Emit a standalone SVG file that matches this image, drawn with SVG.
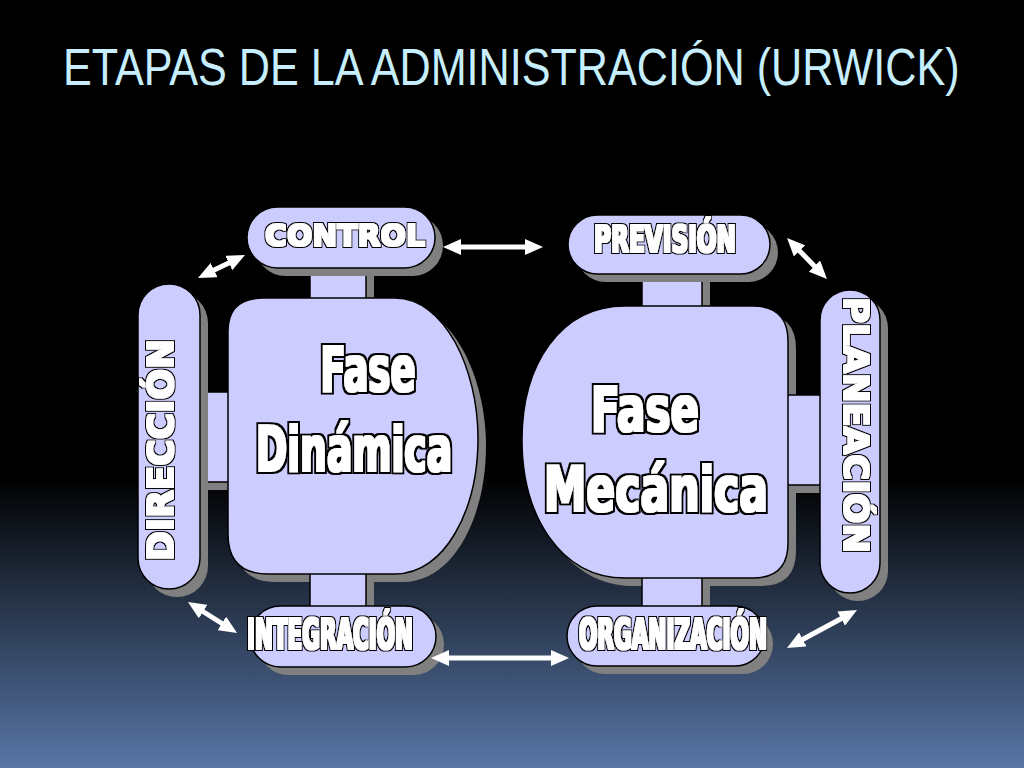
<svg xmlns="http://www.w3.org/2000/svg" width="1024" height="768" viewBox="0 0 1024 768">
<defs>
<linearGradient id="bg" x1="0" y1="0" x2="0" y2="1">
<stop offset="0" stop-color="#000"/>
<stop offset="0.62" stop-color="#000"/>
<stop offset="1" stop-color="#5876a6"/>
</linearGradient>
<marker id="ah" viewBox="0 0 18 16" refX="4" refY="8" markerWidth="18" markerHeight="16" markerUnits="userSpaceOnUse" orient="auto-start-reverse">
<path d="M0,0 L18,8 L0,16 z" fill="#fff"/>
</marker>
<filter id="ol" x="-10%" y="-20%" width="120%" height="140%">
<feMorphology in="SourceAlpha" operator="dilate" radius="0.9" result="w"/>
<feMorphology in="SourceAlpha" operator="dilate" radius="2.2" result="b"/>
<feFlood flood-color="#000"/><feComposite in2="b" operator="in" result="bk"/>
<feFlood flood-color="#fff"/><feComposite in2="w" operator="in" result="wt"/>
<feMerge><feMergeNode in="bk"/><feMergeNode in="wt"/></feMerge>
</filter>
<filter id="olb" x="-10%" y="-20%" width="120%" height="140%">
<feMorphology in="SourceAlpha" operator="dilate" radius="1.3" result="w"/>
<feMorphology in="SourceAlpha" operator="dilate" radius="2.8" result="b"/>
<feFlood flood-color="#000"/><feComposite in2="b" operator="in" result="bk"/>
<feFlood flood-color="#fff"/><feComposite in2="w" operator="in" result="wt"/>
<feMerge><feMergeNode in="bk"/><feMergeNode in="wt"/></feMerge>
</filter>
<style>
.fg{fill:#ccccff;stroke:#000;stroke-width:1.5}
.sh{fill:#808080;stroke:none}
.lbl{fill:#fff;filter:url(#ol);font-family:'DejaVu Sans Condensed','DejaVu Sans','Liberation Sans',sans-serif;font-weight:bold;text-anchor:middle}
.wide{fill:#fff;filter:url(#ol);font-family:'DejaVu Sans','Liberation Sans',sans-serif;font-weight:bold;text-anchor:middle}
.big{fill:#fff;filter:url(#olb);font-family:'DejaVu Sans Condensed','DejaVu Sans','Liberation Sans',sans-serif;font-weight:bold;text-anchor:middle;font-size:63px}
.arr{stroke:#fff;stroke-width:5;fill:none;marker-start:url(#ah);marker-end:url(#ah)}
</style>
</defs>
<rect x="0" y="0" width="1024" height="768" fill="url(#bg)"/>
<text transform="translate(63,85) scale(0.83,1)" x="0" y="0" font-family="'Liberation Sans',Arial,sans-serif" font-size="52" fill="#c6eefc">ETAPAS DE LA ADMINISTRACIÓN (URWICK)</text>

<g id="fase-dinamica">
<g transform="translate(8,8)">
<rect class="sh" x="310" y="268" width="56" height="32"/>
<rect class="sh" x="196" y="392" width="34" height="90"/>
<rect class="sh" x="310" y="574" width="56" height="34"/>
<path class="sh" d="M263 298 L395 298 C445 298 478 370 478 438 C478 510 445 574 395 574 L268 574 Q228 574 228 534 L228 331 Q228 298 263 298 Z"/>
</g>
<rect class="fg" x="310" y="266" width="56" height="36"/>
<rect class="fg" x="196" y="392" width="34" height="90"/>
<rect class="fg" x="310" y="570" width="56" height="38"/>
<path class="fg" d="M263 298 L395 298 C445 298 478 370 478 438 C478 510 445 574 395 574 L268 574 Q228 574 228 534 L228 331 Q228 298 263 298 Z"/>
<text class="big" x="368" y="391" textLength="95" lengthAdjust="spacingAndGlyphs">Fase</text>
<text class="big" x="354" y="471" textLength="196" lengthAdjust="spacingAndGlyphs">Dinámica</text>
</g>

<g id="fase-mecanica">
<g transform="translate(8,8)">
<rect class="sh" x="642" y="272" width="60" height="36"/>
<rect class="sh" x="786" y="395" width="36" height="90"/>
<rect class="sh" x="642" y="574" width="60" height="34"/>
<path class="sh" d="M625 306 L753 306 Q788 306 788 341 L788 543 Q788 578 753 578 L625 578 C560 578 522 515 522 440 C522 365 560 306 625 306 Z"/>
</g>
<rect class="fg" x="642" y="272" width="60" height="38"/>
<rect class="fg" x="786" y="395" width="36" height="90"/>
<rect class="fg" x="642" y="572" width="60" height="36"/>
<path class="fg" d="M625 306 L753 306 Q788 306 788 341 L788 543 Q788 578 753 578 L625 578 C560 578 522 515 522 440 C522 365 560 306 625 306 Z"/>
<text class="big" x="645" y="431" textLength="108" lengthAdjust="spacingAndGlyphs">Fase</text>
<text class="big" x="656" y="511" textLength="224" lengthAdjust="spacingAndGlyphs">Mecánica</text>
</g>

<g id="control">
<rect class="sh" x="255" y="215" width="188" height="61" rx="30.5"/>
<rect class="fg" x="247" y="207" width="188" height="61" rx="30.5"/>
<text class="wide" x="345" y="246" font-size="31" textLength="160" lengthAdjust="spacingAndGlyphs">CONTROL</text>
</g>

<g id="prevision">
<rect class="sh" x="576" y="223" width="202" height="59" rx="29.5"/>
<rect class="fg" x="568" y="215" width="202" height="59" rx="29.5"/>
<text class="lbl" x="665" y="252" font-size="38" textLength="142" lengthAdjust="spacingAndGlyphs">PREVISIÓN</text>
</g>

<g id="direccion">
<rect class="sh" x="146" y="292" width="62" height="305" rx="31"/>
<rect class="fg" x="138" y="284" width="62" height="305" rx="31"/>
<text class="wide" transform="translate(173,450) rotate(-90)" font-size="35" textLength="222" lengthAdjust="spacingAndGlyphs">DIRECCIÓN</text>
</g>

<g id="planeacion">
<rect class="sh" x="828" y="298" width="60" height="303" rx="30"/>
<rect class="fg" x="820" y="290" width="60" height="303" rx="30"/>
<text class="lbl" transform="translate(844,425) rotate(90)" font-size="34" textLength="256" lengthAdjust="spacingAndGlyphs">PLANEACIÓN</text>
</g>

<g id="integracion">
<rect class="sh" x="258" y="614" width="186" height="61" rx="30.5"/>
<rect class="fg" x="250" y="606" width="186" height="61" rx="30.5"/>
<text class="lbl" x="330" y="649" font-size="42" textLength="166" lengthAdjust="spacingAndGlyphs">INTEGRACIÓN</text>
</g>

<g id="organizacion">
<rect class="sh" x="575" y="614" width="198" height="60" rx="30"/>
<rect class="fg" x="567" y="606" width="198" height="60" rx="30"/>
<text class="lbl" x="673" y="649" font-size="42" textLength="188" lengthAdjust="spacingAndGlyphs">ORGANIZACIÓN</text>
</g>

<g id="connectors">
<line class="arr" x1="210.6" y1="271.8" x2="232.4" y2="261.2"/>
<line class="arr" x1="457" y1="247" x2="529" y2="247"/>
<line class="arr" x1="796.8" y1="248" x2="817.2" y2="269"/>
<line class="arr" x1="199.8" y1="609.5" x2="225.2" y2="625.5"/>
<line class="arr" x1="445" y1="658" x2="555" y2="658"/>
<line class="arr" x1="799.3" y1="641.3" x2="844.7" y2="616.7"/>
</g>
</svg>
